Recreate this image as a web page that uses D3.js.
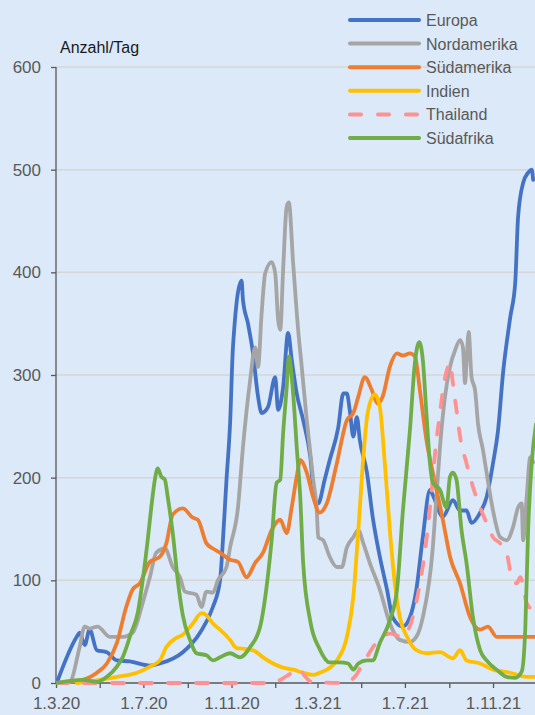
<!DOCTYPE html>
<head>
  <meta charset="utf-8">
  <script src="https://d3js.org/d3.v7.min.js"></script>
  <style>
    body { margin: 0; background: #dce9f8; }
    text { font-family: "Liberation Sans", Arial, sans-serif; }
  </style>
</head>
<body>
  <div id="chart"></div>
  <script>

  // values: [date, cases per day]
  var europa = [["2020-03-02",0],["2020-03-30",45],["2020-04-03",49],["2020-04-10",37],["2020-04-17",52],["2020-04-27",32],
    ["2020-05-11",30],["2020-05-25",22],["2020-06-12",21],["2020-07-10",17],["2020-07-24",19],["2020-08-25",30],
    ["2020-09-18",49],["2020-10-06",74],["2020-10-16",100],["2020-10-20",139],["2020-10-25",198],["2020-10-30",253],
    ["2020-11-03",327],["2020-11-15",392],["2020-11-17",373],["2020-11-24",350],["2020-12-01",321],["2020-12-08",279],
    ["2020-12-13",263],["2020-12-22",269],["2021-01-01",298],["2021-01-05",266],["2021-01-12",288],["2021-01-19",341],
    ["2021-01-24",315],["2021-01-31",282],["2021-02-09",256],["2021-02-19",220],["2021-02-25",178],["2021-03-02",175],
    ["2021-03-11",198],["2021-03-18",217],["2021-03-30",249],["2021-04-06",282],["2021-04-11",282],["2021-04-15",266],
    ["2021-04-20",240],["2021-04-25",259],["2021-04-29",237],["2021-05-09",205],["2021-05-17",162],["2021-05-27",123],
    ["2021-06-06",91],["2021-06-14",64],["2021-06-28",55],["2021-07-08",64],["2021-07-17",91],["2021-07-26",142],
    ["2021-08-05",188],["2021-08-09",183],["2021-08-23",162],["2021-09-06",178],["2021-09-16",168],["2021-09-25",168],
    ["2021-10-02",156],["2021-10-14",166],["2021-10-23",181],["2021-11-01",214],["2021-11-08",246],["2021-11-15",302],
    ["2021-11-25",356],["2021-12-02",390],["2021-12-06",454],["2021-12-13",487],["2021-12-20",497],["2021-12-25",500],
    ["2021-12-27",490]];

  var nordamerika = [["2020-03-01",0],["2020-03-20",1],["2020-04-03",35],["2020-04-10",55],["2020-04-17",53],["2020-04-28",55],
    ["2020-05-15",45],["2020-06-02",45],["2020-06-16",49],["2020-06-30",78],["2020-07-10",103],["2020-07-19",127],
    ["2020-07-31",131],["2020-08-11",113],["2020-08-21",103],["2020-08-28",89],["2020-09-13",86],["2020-09-20",74],
    ["2020-09-27",89],["2020-10-06",88],["2020-10-13",100],["2020-10-25",113],["2020-10-30",132],["2020-11-10",171],
    ["2020-11-17",230],["2020-11-27",295],["2020-12-04",327],["2020-12-08",308],["2020-12-13",360],["2020-12-18",399],
    ["2020-12-27",410],["2021-01-01",399],["2021-01-05",354],["2021-01-08",344],["2021-01-12",402],["2021-01-17",464],
    ["2021-01-20",468],["2021-01-26",409],["2021-02-02",344],["2021-02-07",308],["2021-02-14",256],["2021-02-23",198],
    ["2021-02-28",168],["2021-03-02",142],["2021-03-09",139],["2021-03-18",123],["2021-03-28",113],["2021-04-04",113],
    ["2021-04-11",132],["2021-04-20",142],["2021-04-27",149],["2021-05-04",136],["2021-05-13",117],["2021-05-27",91],
    ["2021-06-10",58],["2021-06-24",42],["2021-07-08",40],["2021-07-17",45],["2021-07-26",64],["2021-08-09",132],
    ["2021-08-14",181],["2021-08-19",230],["2021-08-26",279],["2021-09-02",308],["2021-09-09",324],["2021-09-16",334],
    ["2021-09-20",327],["2021-09-23",292],["2021-09-25",312],["2021-09-28",342],["2021-10-02",298],["2021-10-07",285],
    ["2021-10-11",253],["2021-10-18",227],["2021-10-23",205],["2021-11-01",168],["2021-11-11",142],["2021-11-20",139],
    ["2021-11-29",152],["2021-12-06",171],["2021-12-11",175],["2021-12-13",139],["2021-12-18",181],["2021-12-23",220],
    ["2021-12-27",215]];

  var suedamerika = [["2020-03-02",0],["2020-04-07",3],["2020-04-27",10],["2020-05-11",19],["2020-05-25",39],["2020-06-07",74],
    ["2020-06-16",91],["2020-06-26",97],["2020-07-10",118],["2020-07-24",123],["2020-08-02",136],["2020-08-11",164],
    ["2020-08-25",170],["2020-09-08",161],["2020-09-15",159],["2020-09-27",136],["2020-10-06",131],["2020-10-16",127],
    ["2020-10-30",120],["2020-11-10",118],["2020-11-22",103],["2020-12-04",117],["2020-12-15",127],["2020-12-27",149],
    ["2021-01-08",159],["2021-01-17",146],["2021-01-24",171],["2021-01-31",201],["2021-02-05",217],["2021-02-14",205],
    ["2021-02-23",181],["2021-03-04",166],["2021-03-14",175],["2021-03-28",214],["2021-04-11",256],["2021-04-20",263],
    ["2021-04-27",279],["2021-05-06",298],["2021-05-16",285],["2021-05-24",272],["2021-05-31",279],["2021-06-10",308],
    ["2021-06-20",321],["2021-06-28",319],["2021-07-08",321],["2021-07-15",318],["2021-07-22",285],["2021-07-31",237],
    ["2021-08-09",205],["2021-08-23",159],["2021-09-02",123],["2021-09-16",97],["2021-09-30",64],["2021-10-14",52],
    ["2021-10-25",55],["2021-11-06",45],["2021-11-20",45],["2021-12-09",45],["2021-12-31",45]];

  var indien = [["2020-03-30",0],["2020-05-01",3],["2020-05-25",6],["2020-06-22",10],["2020-07-10",16],["2020-07-24",22],
    ["2020-08-02",35],["2020-08-16",44],["2020-08-25",47],["2020-09-08",58],["2020-09-20",68],["2020-09-27",66],
    ["2020-10-06",58],["2020-10-16",52],["2020-10-30",42],["2020-11-08",34],["2020-11-22",33],["2020-12-04",31],
    ["2020-12-15",25],["2020-12-29",19],["2021-01-12",15],["2021-01-26",13],["2021-02-09",10],["2021-02-23",8],
    ["2021-03-04",10],["2021-03-14",13],["2021-03-28",22],["2021-04-11",45],["2021-04-20",84],["2021-04-27",149],
    ["2021-05-04",220],["2021-05-10",263],["2021-05-20",281],["2021-05-27",269],["2021-06-03",214],["2021-06-10",149],
    ["2021-06-17",97],["2021-06-24",64],["2021-07-04",45],["2021-07-17",32],["2021-07-31",29],["2021-08-19",30],
    ["2021-09-06",24],["2021-09-16",32],["2021-09-25",22],["2021-10-14",19],["2021-11-01",13],["2021-11-25",10],
    ["2021-12-18",6],["2021-12-31",6]];

  var thailand = [["2020-03-01",0],["2020-12-25",0],["2021-01-08",3],["2021-01-22",9],["2021-02-03",14],["2021-02-11",7],
    ["2021-02-21",1],["2021-04-09",0],["2021-04-22",6],["2021-05-06",22],["2021-05-23",40],["2021-06-10",48],
    ["2021-06-28",45],["2021-07-11",62],["2021-07-22",97],["2021-07-31",139],["2021-08-05",171],["2021-08-14",236],
    ["2021-08-19",263],["2021-08-23",285],["2021-08-30",308],["2021-09-02",312],["2021-09-06",292],["2021-09-11",266],
    ["2021-09-16",240],["2021-09-25",214],["2021-10-04",191],["2021-10-14",171],["2021-10-23",156],["2021-11-01",142],
    ["2021-11-11",136],["2021-11-20",127],["2021-11-27",103],["2021-12-04",97],["2021-12-09",103],["2021-12-18",78],
    ["2021-12-27",71]];

  var suedafrika = [["2020-03-02",0],["2020-04-07",3],["2020-04-27",1],["2020-05-11",6],["2020-05-25",16],["2020-06-02",25],
    ["2020-06-14",49],["2020-06-23",68],["2020-06-30",100],["2020-07-07",139],["2020-07-12",171],["2020-07-17",198],
    ["2020-07-21",209],["2020-07-26",201],["2020-07-31",198],["2020-08-04",181],["2020-08-11",146],["2020-08-18",100],
    ["2020-08-25",66],["2020-09-04",42],["2020-09-13",29],["2020-09-27",27],["2020-10-06",22],["2020-10-16",25],
    ["2020-10-30",29],["2020-11-13",25],["2020-11-27",35],["2020-12-11",55],["2020-12-20",94],["2020-12-27",139],
    ["2021-01-03",195],["2021-01-08",198],["2021-01-12",243],["2021-01-17",288],["2021-01-20",318],["2021-01-26",282],
    ["2021-01-31",230],["2021-02-05",180],["2021-02-09",117],["2021-02-19",60],["2021-03-04",33],["2021-03-18",20],
    ["2021-04-01",20],["2021-04-13",19],["2021-04-20",13],["2021-04-27",19],["2021-05-09",22],["2021-05-17",22],
    ["2021-05-27",39],["2021-06-10",61],["2021-06-20",91],["2021-06-28",166],["2021-07-08",246],["2021-07-15",312],
    ["2021-07-21",332],["2021-07-26",315],["2021-07-31",263],["2021-08-05",214],["2021-08-09",195],["2021-08-19",188],
    ["2021-08-28",171],["2021-09-02",201],["2021-09-06",205],["2021-09-11",198],["2021-09-18",149],["2021-09-25",117],
    ["2021-10-04",64],["2021-10-14",32],["2021-10-23",22],["2021-11-06",13],["2021-11-20",6],["2021-12-02",5],
    ["2021-12-11",11],["2021-12-16",52],["2021-12-20",149],["2021-12-25",214],["2021-12-31",252]];

  var seriesNames = ["Europa", "Nordamerika", "Südamerika", "Indien", "Thailand", "Südafrika"];
  var seriesData = [europa, nordamerika, suedamerika, indien, thailand, suedafrika];
  var seriesColors = ["#4472c4", "#a5a5a5", "#ed7d31", "#ffc000", "#ff9191", "#70ad47"];

  var yTicks = [0, 100, 200, 300, 400, 500, 600];
  var xTickDates = ["2020-03-01","2020-05-01","2020-07-01","2020-09-01","2020-11-01","2021-01-01",
    "2021-03-01","2021-05-01","2021-07-01","2021-09-01","2021-11-01"];
  var xTickLabels = ["1.3.20", "", "1.7.20", "", "1.11.20", "", "1.3.21", "", "1.7.21", "", "1.11.21"];

  var width = 535, height = 715;
  var parseDate = d3.timeParse("%Y-%m-%d");

  var svg = d3.select("#chart").append("svg")
    .attr("width", width)
    .attr("height", height);

  svg.append("rect")
    .attr("width", width)
    .attr("height", height)
    .style("fill", "#dce9f8");

  var x = d3.scaleTime()
    .domain([parseDate("2020-03-01"), parseDate("2021-12-31")])
    .range([56, 536]);

  var y = d3.scaleLinear()
    .domain([0, 600])
    .range([683, 67]);

  // gridlines
  svg.append("g").selectAll("line")
    .data(yTicks.slice(1))
    .enter()
    .append("line")
    .attr("x1", 56)
    .attr("x2", width)
    .attr("y1", function(d) { return y(d); })
    .attr("y2", function(d) { return y(d); })
    .style("stroke", "#d6d6d6")
    .style("stroke-width", 1.5);

  var yAxis = svg.append("g")
    .attr("transform", "translate(56,0)")
    .call(d3.axisLeft(y).tickValues(yTicks).tickSize(5).tickPadding(10));

  var xAxis = svg.append("g")
    .attr("transform", "translate(0,683)")
    .call(d3.axisBottom(x)
      .tickValues(xTickDates.map(parseDate))
      .tickSize(5)
      .tickPadding(9)
      .tickFormat(function(d, i) { return xTickLabels[i]; }));

  [yAxis, xAxis].forEach(function(ax) {
    ax.select(".domain").style("stroke", "#595959").style("stroke-width", 1.3);
    ax.selectAll(".tick line").style("stroke", "#595959").style("stroke-width", 1.3);
    ax.selectAll(".tick text")
      .style("font-family", "'Liberation Sans', Arial, sans-serif")
      .style("font-size", "17px")
      .style("fill", "#595959");
  });
  xAxis.select(".domain").attr("d", "M56,0H" + width);
  yAxis.select(".domain").attr("d", "M0,683V67");

  svg.append("text")
    .attr("x", 60)
    .attr("y", 53)
    .style("font-size", "16px")
    .style("fill", "#1a1a1a")
    .text("Anzahl/Tag");

  var line = d3.line()
    .x(function(d) { return x(parseDate(d[0])); })
    .y(function(d) { return y(d[1]); })
    .curve(d3.curveMonotoneX);

  svg.append("defs").append("clipPath").attr("id", "plotClip")
    .append("rect").attr("x", 56).attr("y", 0).attr("width", width - 56).attr("height", 690);

  var plot = svg.append("g").attr("clip-path", "url(#plotClip)");

  seriesData.forEach(function(data, i) {
    plot.append("path")
      .datum(data)
      .attr("d", line)
      .style("fill", "none")
      .style("stroke", seriesColors[i])
      .style("stroke-width", 3.8)
      .style("stroke-linejoin", "round")
      .style("stroke-linecap", "round")
      .style("stroke-dasharray", seriesNames[i] == "Thailand" ? "12,16" : null);
  });

  // legend
  var legend = svg.append("g").selectAll("g")
    .data(seriesNames)
    .enter()
    .append("g")
    .attr("transform", function(d, i) { return "translate(350," + (20 + i * 23.6) + ")"; });

  legend.append("line")
    .attr("x1", 0)
    .attr("x2", 69)
    .style("stroke", function(d, i) { return seriesColors[i]; })
    .style("stroke-width", 4)
    .style("stroke-linecap", "round")
    .style("stroke-dasharray", function(d) { return d == "Thailand" ? "11,17" : null; });

  legend.append("text")
    .attr("x", 76)
    .attr("y", 6)
    .style("font-size", "16px")
    .style("fill", "#595959")
    .text(function(d) { return d; });

  </script>
</body>
